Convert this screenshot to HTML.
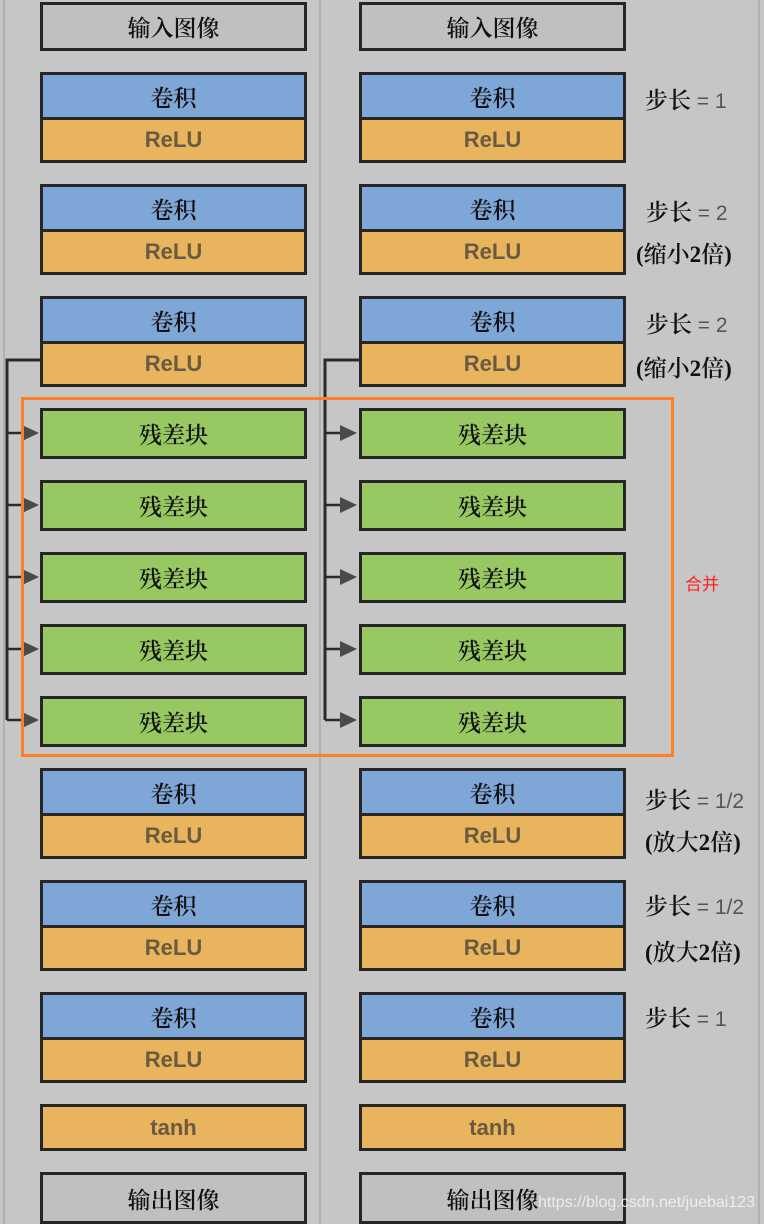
<!DOCTYPE html>
<html><head><meta charset="utf-8"><style>
html,body{margin:0;padding:0}
body{width:764px;height:1224px;background:#c6c6c6;position:relative;overflow:hidden;font-family:"Liberation Serif","Noto Serif CJK SC",serif}
.b{position:absolute;box-sizing:border-box;border:3px solid #262626;width:267px;display:flex;align-items:center;justify-content:center;font-size:23px;font-weight:600;color:#111}
.g{background:#c0c0c0}
.c{background:#7ea6d6}
.r{background:#e8b45e;color:#6a5a40;font-family:"Liberation Sans","DejaVu Sans",sans-serif;font-weight:bold;font-size:22px}
.x{background:#97c862}
.grp{position:absolute;box-sizing:border-box;border:3px solid #262626;width:267px;height:91px}
.grp .c,.grp .r{position:absolute;left:0;right:0;display:flex;align-items:center;justify-content:center}
.grp .c{top:0;height:42px;border-bottom:3px solid #262626;font-size:23px;font-weight:600;color:#111}
.grp .r{top:45px;bottom:0}
.lab{position:absolute;font-size:23px;font-weight:600;color:#111;white-space:nowrap}
.lab span{font-family:"Liberation Sans",sans-serif;color:#555;font-size:21px;font-weight:normal}
.vl{position:absolute;top:0;height:1224px;width:2px;background:#b0b0b0}
</style></head><body>
<div class="vl" style="left:3px"></div>
<div class="vl" style="left:319px"></div>
<div class="vl" style="left:758px"></div>

<svg width="764" height="1224" style="position:absolute;left:0;top:0">
<g stroke="#2a2a2a" stroke-width="3" fill="none">
<polyline points="40,360 7,360 7,720"/>
<polyline points="359,360 325,360 325,720"/>
</g>
<g stroke="#2a2a2a" stroke-width="2.5">
<line x1="7" y1="433" x2="24" y2="433"/><line x1="7" y1="505" x2="24" y2="505"/><line x1="7" y1="577" x2="24" y2="577"/><line x1="7" y1="649" x2="24" y2="649"/><line x1="7" y1="720" x2="24" y2="720"/>
<line x1="325" y1="433" x2="342" y2="433"/><line x1="325" y1="505" x2="342" y2="505"/><line x1="325" y1="577" x2="342" y2="577"/><line x1="325" y1="649" x2="342" y2="649"/><line x1="325" y1="720" x2="342" y2="720"/>
</g>
<g fill="#4a4a4a">
<polygon points="22,425 39,433 22,441"/><polygon points="22,497 39,505 22,513"/><polygon points="22,569 39,577 22,585"/><polygon points="22,641 39,649 22,657"/><polygon points="22,712 39,720 22,728"/>
<polygon points="340,425 357,433 340,441"/><polygon points="340,497 357,505 340,513"/><polygon points="340,569 357,577 340,585"/><polygon points="340,641 357,649 340,657"/><polygon points="340,712 357,720 340,728"/>
</g>
</svg>

<div class="b g" style="left:40px;top:2px;height:49px">输入图像</div>
<div class="grp" style="left:40px;top:72px"><div class="c">卷积</div><div class="r">ReLU</div></div>
<div class="grp" style="left:40px;top:184px"><div class="c">卷积</div><div class="r">ReLU</div></div>
<div class="grp" style="left:40px;top:296px"><div class="c">卷积</div><div class="r">ReLU</div></div>
<div class="b x" style="left:40px;top:408px;height:51px">残差块</div>
<div class="b x" style="left:40px;top:480px;height:51px">残差块</div>
<div class="b x" style="left:40px;top:552px;height:51px">残差块</div>
<div class="b x" style="left:40px;top:624px;height:51px">残差块</div>
<div class="b x" style="left:40px;top:696px;height:51px">残差块</div>
<div class="grp" style="left:40px;top:768px"><div class="c">卷积</div><div class="r">ReLU</div></div>
<div class="grp" style="left:40px;top:880px"><div class="c">卷积</div><div class="r">ReLU</div></div>
<div class="grp" style="left:40px;top:992px"><div class="c">卷积</div><div class="r">ReLU</div></div>
<div class="b r" style="left:40px;top:1104px;height:47px">tanh</div>
<div class="b g" style="left:40px;top:1172px;height:52px">输出图像</div>

<div class="b g" style="left:359px;top:2px;height:49px">输入图像</div>
<div class="grp" style="left:359px;top:72px"><div class="c">卷积</div><div class="r">ReLU</div></div>
<div class="grp" style="left:359px;top:184px"><div class="c">卷积</div><div class="r">ReLU</div></div>
<div class="grp" style="left:359px;top:296px"><div class="c">卷积</div><div class="r">ReLU</div></div>
<div class="b x" style="left:359px;top:408px;height:51px">残差块</div>
<div class="b x" style="left:359px;top:480px;height:51px">残差块</div>
<div class="b x" style="left:359px;top:552px;height:51px">残差块</div>
<div class="b x" style="left:359px;top:624px;height:51px">残差块</div>
<div class="b x" style="left:359px;top:696px;height:51px">残差块</div>
<div class="grp" style="left:359px;top:768px"><div class="c">卷积</div><div class="r">ReLU</div></div>
<div class="grp" style="left:359px;top:880px"><div class="c">卷积</div><div class="r">ReLU</div></div>
<div class="grp" style="left:359px;top:992px"><div class="c">卷积</div><div class="r">ReLU</div></div>
<div class="b r" style="left:359px;top:1104px;height:47px">tanh</div>
<div class="b g" style="left:359px;top:1172px;height:52px">输出图像</div>

<div style="position:absolute;left:21px;top:397px;width:647px;height:354px;border:3px solid #ff7f27"></div>
<div style="position:absolute;left:685px;top:570px;font-size:17px;color:#ff2020;font-family:'Liberation Sans','Noto Sans CJK SC',sans-serif">合并</div>

<div class="lab" style="left:645px;top:82px">步长 <span>= 1</span></div>
<div class="lab" style="left:646px;top:194px">步长 <span>= 2</span></div>
<div class="lab" style="left:636px;top:236px">(缩小2倍)</div>
<div class="lab" style="left:646px;top:306px">步长 <span>= 2</span></div>
<div class="lab" style="left:636px;top:350px">(缩小2倍)</div>
<div class="lab" style="left:645px;top:782px">步长 <span>= 1/2</span></div>
<div class="lab" style="left:645px;top:824px">(放大2倍)</div>
<div class="lab" style="left:645px;top:888px">步长 <span>= 1/2</span></div>
<div class="lab" style="left:645px;top:934px">(放大2倍)</div>
<div class="lab" style="left:645px;top:1000px">步长 <span>= 1</span></div>

<div style="position:absolute;left:538px;top:1194px;font-size:16px;color:rgba(245,245,245,0.85);font-family:'Liberation Sans',sans-serif">https://blog.csdn.net/juebai123</div>
</body></html>
